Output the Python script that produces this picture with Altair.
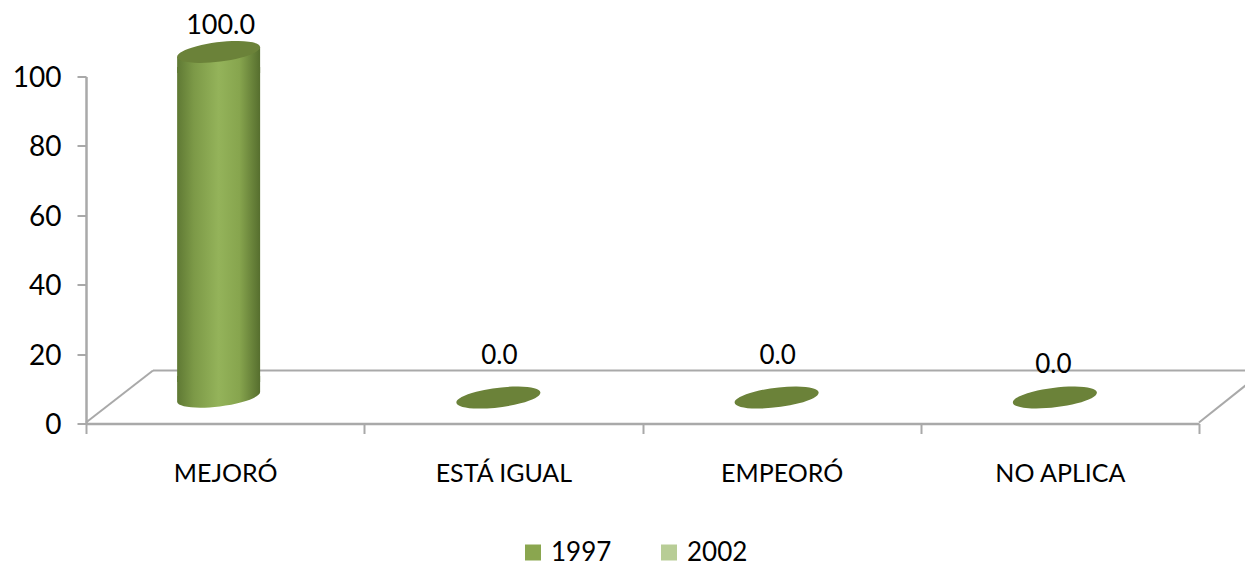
import altair as alt
import pandas as pd

categories = ["MEJORÓ", "ESTÁ IGUAL", "EMPEORÓ", "NO APLICA"]
values_1997 = [100.0, 0.0, 0.0, 0.0]
years = ["1997", "2002"]
year_colors = ["#8AA64F", "#B8CD96"]

FONT = "Lato"
GRAY = "#A9A9A9"
ELLIPSE = "M-0.9925,0.1219 A1,0.23 -7 1,1 0.9925,-0.1219 A1,0.23 -7 1,1 -0.9925,0.1219 Z"
BASE_CAP = "M-0.9925,-0.5 L0.9925,-0.5 L0.9925,-0.1219 A1,0.23 -7 0 1 -0.9925,0.1219 Z"
TOP_CAP = "M-0.9925,0.1219 L0.9925,-0.1219 L0.9925,0.5 L-0.9925,0.5 Z"

df = pd.DataFrame({"cat": categories, "val": values_1997, "year": "1997"})
df["label"] = df["val"].map(lambda v: f"{v:.1f}")

x = alt.X("cat:N", sort=categories,
          scale=alt.Scale(domain=categories, paddingInner=0, paddingOuter=0),
          axis=alt.Axis(title=None, labelAngle=0, tickBand="extent", tickSize=10,
                        tickColor=GRAY, tickWidth=2, domainColor=GRAY, domainWidth=2.5,
                        labelFont=FONT, labelFontSize=25, labelColor="black",
                        labelPadding=28, labelFontWeight="normal", grid=False))
y = alt.Y("val:Q", scale=alt.Scale(domain=[0, 100], nice=False),
          axis=alt.Axis(title=None, values=[0, 20, 40, 60, 80, 100], tickSize=9,
                        tickColor=GRAY, tickWidth=2, domainColor=GRAY, domainWidth=2.5,
                        labelFont=FONT, labelFontSize=28, labelColor="black",
                        labelPadding=16, labelOffset=2, grid=False))

body_fill = alt.Gradient(gradient="linear", x1=0, x2=1, y1=0, y2=0, stops=[
    alt.GradientStop(color="#5F7934", offset=0),
    alt.GradientStop(color="#7C9947", offset=0.2),
    alt.GradientStop(color="#94B35A", offset=0.5),
    alt.GradientStop(color="#87A54E", offset=0.75),
    alt.GradientStop(color="#566E2E", offset=1),
])

blank = alt.Data(values=[{}])


def floor_line(x1, y1, x2, y2):
    return alt.Chart(blank).mark_rule(color=GRAY, strokeWidth=2).encode(
        x=alt.value(x1), y=alt.value(y1), x2=alt.value(x2), y2=alt.value(y2))


floor = [floor_line(67, 294, 1167, 294), floor_line(0, 346, 67, 294),
         floor_line(1113, 346, 1167, 303)]

base = alt.Chart(df).encode(x=x, y=y)
filled = base.transform_filter("datum.val > 0")

bottom = filled.mark_point(shape=BASE_CAP, size=6989, filled=True, fill=body_fill,
                           opacity=1, strokeWidth=0, xOffset=-6.5, yOffset=-26.5).encode(
    y=alt.datum(0))
bar = filled.mark_bar(width=83, fill=body_fill, xOffset=-6.5, yOffset=-9.5, y2Offset=-41.5).encode(
    y2=alt.datum(0))
top_cap = filled.mark_point(shape=TOP_CAP, size=6989, filled=True, fill=body_fill,
                            opacity=1, strokeWidth=0, xOffset=-6.5, yOffset=-24.5)
top = filled.mark_point(shape=ELLIPSE, size=6989, filled=True, fill="#6B8239", opacity=1,
                        strokeWidth=0, xOffset=-6.5, yOffset=-24.5)
zero = base.transform_filter("datum.val == 0").mark_point(
    shape=ELLIPSE, size=7156, filled=True, fill="#6B8239", opacity=1,
    strokeWidth=0, xOffset=-5, yOffset=-26)
text_main = filled.mark_text(
    font=FONT, fontSize=27, color="black", dx=-4.5, dy=-50.5).encode(text="label:N")
text_mid = base.transform_filter("datum.cat != 'NO APLICA' && datum.val == 0").mark_text(
    font=FONT, fontSize=26, color="black", dx=-4, dy=-67.5).encode(text="label:N")
text_last = base.transform_filter("datum.cat == 'NO APLICA'").mark_text(
    font=FONT, fontSize=26, color="black", dx=-6.5, dy=-59).encode(text="label:N")

legend_data = pd.DataFrame({"year": years})
legend = alt.Chart(legend_data).mark_point(shape="square", filled=True, opacity=0).encode(
    color=alt.Color("year:N", scale=alt.Scale(domain=years, range=year_colors),
                    legend=alt.Legend(orient="none", legendX=434, legendY=463, direction="horizontal",
                                      title=None, symbolType="square", symbolSize=256,
                                      symbolOpacity=1, symbolStrokeWidth=0, labelFont=FONT,
                                      labelFontSize=26, labelColor="black", columnPadding=44,
                                      labelOffset=5)))

chart = alt.layer(*floor, bottom, bar, top_cap, top, zero, text_main, text_mid, text_last,
                  legend).properties(
    width=1113, height=347,
    padding={"left": 78, "top": 68.5, "right": 46, "bottom": 142},
    autosize=alt.AutoSizeParams(type="none"),
    background="white",
).configure_view(stroke=None)

chart.save("out.html", embed_options={"renderer": "svg", "actions": False})
